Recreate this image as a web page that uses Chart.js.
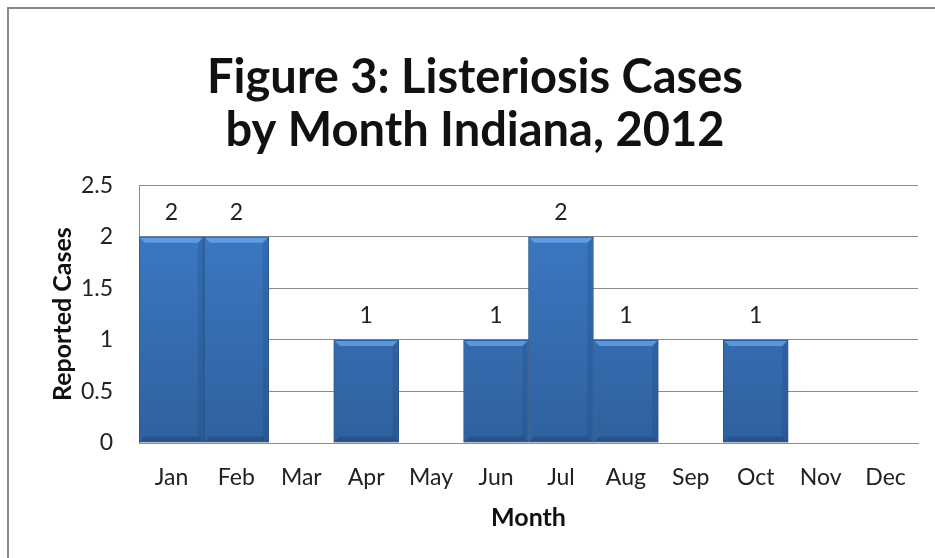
<!DOCTYPE html>
<html>
<head>
<meta charset="utf-8">
<script src="https://cdn.jsdelivr.net/npm/chart.js@4.4.0/dist/chart.umd.min.js"></script>
<style>
  html, body { margin: 0; padding: 0; background: #fff; overflow: hidden; }
  #frame { position: absolute; left: 7px; top: 7px; width: 1000px; height: 700px; border: 2px solid #8a8a8a; }
  #wrap { position: absolute; left: 0; top: 0; width: 935px; height: 558px; }
</style>
</head>
<body>
<div id="frame"></div>
<div id="wrap"><canvas id="c" width="935" height="558"></canvas></div>
<script>
// data
const months = ['Jan', 'Feb', 'Mar', 'Apr', 'May', 'Jun', 'Jul', 'Aug', 'Sep', 'Oct', 'Nov', 'Dec'];
const cases = [2, 2, 0, 1, 0, 1, 2, 1, 0, 1, 0, 0];
const yTicks = [0, 0.5, 1, 1.5, 2, 2.5];

const FONT = 'Lato, "Open Sans", sans-serif';

// value labels over the bars (zero months get none)
const valueLabels = {
  id: 'valueLabels',
  afterDatasetsDraw(chart) {
    const ctx = chart.ctx;
    const meta = chart.getDatasetMeta(0);
    ctx.save();
    ctx.font = '23px ' + FONT;
    ctx.fillStyle = '#222';
    ctx.textAlign = 'center';
    ctx.textBaseline = 'middle';
    meta.data.forEach((bar, i) => {
      if (!cases[i]) return;
      ctx.fillText(String(cases[i]), bar.x, bar.y - 24);
    });
    ctx.restore();
  }
};

// soft bevel on each bar
const bevel = {
  id: 'bevel',
  afterDatasetsDraw(chart) {
    const ctx = chart.ctx;
    const meta = chart.getDatasetMeta(0);
    ctx.save();
    meta.data.forEach((bar, i) => {
      if (!cases[i]) return;
      const l = bar.x - bar.width / 2, r = bar.x + bar.width / 2;
      const t = bar.y, b = bar.base, d = 6;
      ctx.fillStyle = 'rgba(120,180,245,0.6)';
      ctx.beginPath();
      ctx.moveTo(l + 1, t + 1); ctx.lineTo(r - 1, t + 1); ctx.lineTo(r - d, t + d); ctx.lineTo(l + d, t + d);
      ctx.closePath(); ctx.fill();
      ctx.fillStyle = 'rgba(20,55,100,0.18)';
      ctx.beginPath();
      ctx.moveTo(r - 1, t + 1); ctx.lineTo(r - d, t + d); ctx.lineTo(r - d, b - d); ctx.lineTo(r - 1, b - 1);
      ctx.closePath(); ctx.fill();
      ctx.fillStyle = 'rgba(15,45,90,0.3)';
      ctx.beginPath();
      ctx.moveTo(l + 1, b - 1); ctx.lineTo(l + d, b - d); ctx.lineTo(r - d, b - d); ctx.lineTo(r - 1, b - 1);
      ctx.closePath(); ctx.fill();
    });
    ctx.restore();
  }
};

const ctx = document.getElementById('c').getContext('2d');

new Chart(ctx, {
  type: 'bar',
  data: {
    labels: months,
    datasets: [{
      label: 'Reported Cases',
      data: cases,
      backgroundColor: (c) => {
        const area = c.chart.chartArea;
        if (!area) return '#3a72b8';
        const g = c.chart.ctx.createLinearGradient(0, area.top, 0, area.bottom);
        g.addColorStop(0, '#3d7dc9');
        g.addColorStop(1, '#30609e');
        return g;
      },
      borderColor: '#2a5386',
      borderWidth: 1,
      categoryPercentage: 1,
      barPercentage: 1
    }]
  },
  options: {
    responsive: false,
    animation: false,
    layout: { padding: { left: 32, right: 17, top: 22, bottom: 21 } },
    plugins: {
      legend: { display: false },
      tooltip: { enabled: false },
      title: {
        display: true,
        text: ['Figure 3: Listeriosis Cases', 'by Month Indiana, 2012'],
        color: '#111',
        font: { family: FONT, size: 47, weight: 'bold', lineHeight: 1.13 },
        padding: { top: 29, bottom: 28 }
      }
    },
    scales: {
      x: {
        afterFit: (axis) => { axis.height = 94; },
        grid: { display: false, drawTicks: false },
        border: { display: true, color: '#8c8c8c' },
        ticks: { color: '#222', font: { family: FONT, size: 23 }, padding: 21 },
        title: { display: true, text: 'Month', color: '#111', font: { family: FONT, size: 25, weight: 'bold' }, padding: { top: 10 } }
      },
      y: {
        min: 0,
        max: 2.5,
        afterBuildTicks: (axis) => { axis.ticks = yTicks.map(v => ({ value: v })); },
        afterFit: (axis) => { axis.width = 107; },
        grid: { color: '#8c8c8c', drawTicks: false },
        border: { display: true, color: '#8c8c8c' },
        ticks: { color: '#222', font: { family: FONT, size: 23 }, padding: 26, callback: (v) => String(v) },
        title: { display: true, text: 'Reported Cases', color: '#111', font: { family: FONT, size: 25, weight: 'bold' }, padding: { top: 16, bottom: 6 } }
      }
    }
  },
  plugins: [valueLabels, bevel]
});
</script>
</body>
</html>
